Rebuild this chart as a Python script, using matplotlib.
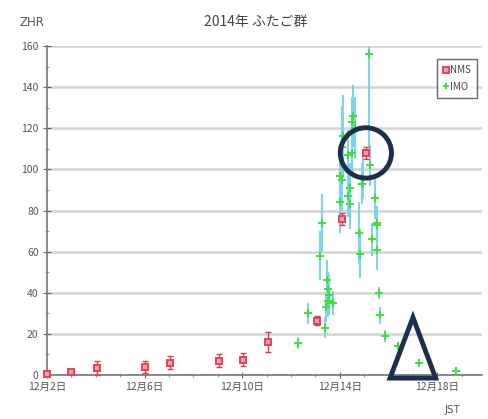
import matplotlib
matplotlib.use("Agg")
import matplotlib.pyplot as plt
from matplotlib.patches import Ellipse, Polygon
from matplotlib.ticker import MultipleLocator

plt.rcParams['font.family'] = ['Noto Sans CJK JP', 'DejaVu Sans']

# NMS data (day of December, ZHR, error)
nms_day = [2.0, 3.0, 4.05, 6.0, 7.05, 9.05, 10.05, 11.05, 13.05, 14.08, 15.07]
nms_zhr = [0.5, 1.5, 3.5, 4.0, 6.0, 7.0, 7.5, 16.0, 26.5, 76.0, 108.0]
nms_err = [0.5, 1.0, 3.5, 3.0, 3.0, 3.0, 3.0, 5.0, 2.0, 3.0, 3.0]

# IMO data
imo_day = [12.29, 12.70, 13.19, 13.27, 13.39, 13.45, 13.47, 13.50, 13.52, 13.57,
           13.72, 14.01, 14.01, 14.09, 14.09, 14.13, 14.34, 14.34, 14.42, 14.42,
           14.50, 14.50, 14.54, 14.62, 14.79, 14.83, 14.91, 14.95, 15.20, 15.24,
           15.32, 15.44, 15.52, 15.52, 15.52, 15.61, 15.65, 15.85, 16.39, 17.25,
           18.76]
imo_zhr = [15.5, 30.0, 58.0, 74.0, 23.0, 33.0, 46.0, 36.0, 42.0, 39.0,
           35.0, 97.0, 84.0, 111.0, 95.0, 116.0, 107.0, 87.0, 91.0, 83.0,
           108.0, 123.0, 126.0, 120.0, 69.0, 59.0, 93.0, 96.0, 156.0, 102.0,
           66.0, 86.0, 74.0, 61.0, 73.0, 40.0, 29.0, 19.0, 14.0, 6.0,
           2.0]
imo_err = [3.0, 5.0, 12.0, 14.0, 5.0, 7.0, 10.0, 8.0, 8.0, 10.0,
           6.0, 15.0, 15.0, 20.0, 15.0, 20.0, 12.0, 10.0, 12.0, 12.0,
           10.0, 12.0, 15.0, 15.0, 15.0, 12.0, 10.0, 10.0, 45.0, 10.0,
           8.0, 10.0, 8.0, 10.0, 8.0, 3.0, 4.0, 3.0, 2.0, 2.0,
           1.5]

xtick_days = [2, 6, 10, 14, 18]
xtick_labels = ['12月2日', '12月6日', '12月10日', '12月14日', '12月18日']

fig = plt.figure(figsize=(4.89, 4.19), dpi=100)
ax = fig.add_axes([47/489, 1-375/419, 435/489, 329/419])

ax.set_xlim(2, 19.83)
ax.set_ylim(0, 160)

ax.yaxis.set_major_locator(MultipleLocator(20))
ax.yaxis.set_minor_locator(MultipleLocator(10))
ax.xaxis.set_minor_locator(MultipleLocator(1))
ax.set_xticks(xtick_days)
ax.set_xticklabels(xtick_labels)

ax.grid(axis='y', which='major', color='#d4d4d4', linewidth=1.8, zorder=0)
ax.set_axisbelow(True)
for s in ['top', 'right']:
    ax.spines[s].set_visible(False)
for s in ['left', 'bottom']:
    ax.spines[s].set_color('#777777')
    ax.spines[s].set_linewidth(1.2)

ax.tick_params(axis='y', which='major', direction='inout', length=6, color='#666666',
               labelsize=7.5, labelcolor='#555555', pad=3)
ax.tick_params(axis='y', which='minor', direction='inout', length=3, color='#888888')
ax.tick_params(axis='x', which='major', direction='inout', length=4, color='#666666',
               labelsize=7.5, labelcolor='#555555', pad=3)
ax.tick_params(axis='x', which='minor', direction='inout', length=3, color='#888888')

# IMO
ax.errorbar(imo_day, imo_zhr, yerr=imo_err, fmt='none', ecolor='#7fd3ea',
            elinewidth=1.5, capsize=0, zorder=3, clip_on=True)
imo_line, = ax.plot(imo_day, imo_zhr, linestyle='none', marker='+', color='#3ee03e',
                    markersize=5.5, markeredgewidth=1.4, zorder=4, label='IMO')

# NMS
ax.errorbar(nms_day, nms_zhr, yerr=nms_err, fmt='none', ecolor='#d8404e',
            elinewidth=1.0, capsize=2.5, zorder=5, clip_on=False)
nms_line, = ax.plot(nms_day, nms_zhr, linestyle='none', marker='s',
                    markerfacecolor='#f6a3aa', markeredgecolor='#e8405a', markersize=4.5,
                    markeredgewidth=1.4, zorder=6, label='NMS', clip_on=False)

leg = ax.legend(handles=[nms_line, imo_line], loc='upper right',
                bbox_to_anchor=(1.0, 0.975), fontsize=7, frameon=True, fancybox=False,
                edgecolor='#444444', handlelength=0.6, handletextpad=0.2, borderpad=0.6,
                labelspacing=0.7, markerscale=0.9)
leg.get_frame().set_linewidth(1.0)
for t in leg.get_texts():
    t.set_color('#444444')

# annotations (dark navy circle and triangle)
navy = '#1c2f4d'
ci = nms_zhr.index(max(nms_zhr))
ax.add_patch(Ellipse((nms_day[ci], nms_zhr[ci]), width=2.1, height=24.5, fill=False,
                     edgecolor=navy, linewidth=3.5, zorder=10, clip_on=False))
ax.add_patch(Polygon([(16.06, -1.5), (17.0, 28.0), (17.93, -1.5)], closed=True,
                     fill=False, edgecolor=navy, linewidth=3.5, joinstyle='miter',
                     zorder=10, clip_on=False))

fig.text(20/489, 1-22/419, 'ZHR', fontsize=8.5, color='#555555', ha='left', va='center',
         family=['DejaVu Sans'])
fig.text(256/489, 1-22/419, '2014年 ふたご群', fontsize=10, color='#444444',
         ha='center', va='center')
fig.text(453/489, 1-410/419, 'JST', fontsize=7.5, color='#555555', ha='center', va='center',
         family=['DejaVu Sans'])

fig.savefig('out.png', dpi=100, facecolor='white')
